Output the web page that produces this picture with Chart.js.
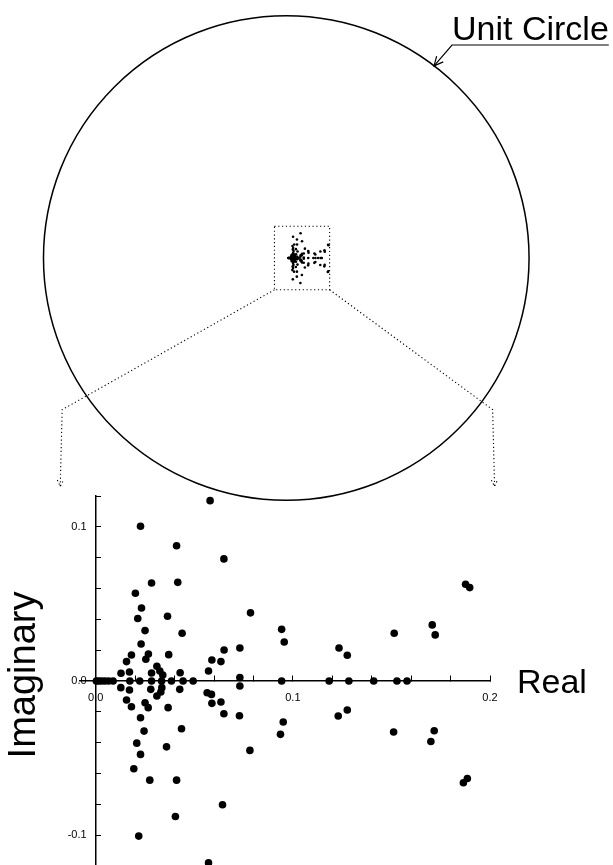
<!DOCTYPE html>
<html>
<head>
<meta charset="utf-8">
<script src="https://cdn.jsdelivr.net/npm/chart.js@4.4.0/dist/chart.umd.min.js"></script>
<style>
  html, body { margin: 0; padding: 0; background: #fff; }
  #wrap { position: relative; width: 613px; height: 865px; overflow: hidden; }
  #circle { position: absolute; left: 0; top: 0; }
  #zoom { position: absolute; left: 0; top: 480px; }
</style>
</head>
<body>
<div id="wrap">
  <canvas id="circle" width="613" height="520"></canvas>
  <canvas id="zoom" width="613" height="390"></canvas>
</div>
<script>
// poles, upper half plane
const upperRe = [0.058, 0.0227, 0.041, 0.065, 0.0283, 0.0416, 0.0201, 0.0232, 0.0213, 0.0364,
  0.0785, 0.025, 0.0438, 0.0943, 0.0956, 0.023, 0.0181, 0.0267, 0.0254, 0.037,
  0.0156, 0.031, 0.0325, 0.0283, 0.034, 0.0128, 0.0171, 0.0428, 0.0572, 0.0589,
  0.0635, 0.0651, 0.0731, 0.0731, 0.1876, 0.1897, 0.1707, 0.1722, 0.1514, 0.1234, 0.1276];
const upperIm = [0.117, 0.1004, 0.0877, 0.0792, 0.0636, 0.064, 0.0569, 0.0474, 0.0405, 0.042,
  0.0442, 0.0327, 0.031, 0.0335, 0.0253, 0.024, 0.0169, 0.0175, 0.0141, 0.0171,
  0.0126, 0.0095, 0.0065, 0.0052, 0.0039, 0.005, 0.0058, 0.0054, 0.0065, 0.0136,
  0.0126, 0.0201, 0.0214, 0.0022, 0.0628, 0.0606, 0.0364, 0.0299, 0.031, 0.0214, 0.0167];

// lower half plane
const lowerRe = [0.0127, 0.0171, 0.0279, 0.0335, 0.033, 0.031, 0.0426, 0.0565, 0.0587, 0.0731,
  0.0156, 0.0181, 0.025, 0.0266, 0.0367, 0.0589, 0.0635, 0.065, 0.0729, 0.0227,
  0.0435, 0.0245, 0.0951, 0.0937, 0.0208, 0.0359, 0.0227, 0.0782, 0.0193, 0.0274,
  0.041, 0.0643, 0.0404, 0.0218, 0.0572, 0.123, 0.1276, 0.1511, 0.1717, 0.17, 0.1865, 0.1885];
const lowerIm = [-0.0043, -0.0058, -0.0054, -0.0043, -0.0071, -0.0097, -0.0054, -0.0076, -0.0087, -0.0032,
  -0.0123, -0.0167, -0.0141, -0.0173, -0.0173, -0.0145, -0.0136, -0.0212, -0.0225, -0.0238,
  -0.031, -0.0325, -0.0266, -0.0346, -0.0403, -0.0427, -0.0476, -0.045, -0.0569, -0.0643,
  -0.0643, -0.0803, -0.0879, -0.1006, -0.118, -0.0227, -0.0188, -0.0331, -0.0323, -0.0392, -0.066, -0.0632];

// poles sitting on the real axis
const axisRe = [0.0003, 0.0015, 0.0029, 0.0046, 0.0065, 0.0088, 0.0173, 0.0223, 0.0283, 0.0334,
  0.0384, 0.0443, 0.0494, 0.0943, 0.1184, 0.1284, 0.141, 0.1528, 0.1579];

// labelled ticks
const xTickVals = [0.0, 0.1, 0.2];
const xTickText = ['0.0', '0.1', '0.2'];
const yTickVals = [-0.1, 0.0, 0.1];
const yTickText = ['-0.1', '0.0', '0.1'];

function pts(re, im) {
  return re.map((r, i) => ({ x: r, y: im[i] }));
}
const poles = pts(upperRe, upperIm)
  .concat(pts(lowerRe, lowerIm))
  .concat(axisRe.map(r => ({ x: r, y: 0 })));

const FONT = '"Liberation Sans", Arial, sans-serif';

function tickLabel(v, vals, text, pad) {
  const i = vals.findIndex(t => Math.abs(t - v) < 1e-6);
  return i < 0 ? '' : text[i] + pad;
}

// ---------- top: unit circle with the small inset ----------
const CX = 286, CY = 258, R = 246;      // circle centre / radius in px
const IX = 288, IY = 258, IR = 215;     // inset origin / scale in px
const W = 613, H1 = 520;

const boxRe = [-0.065, 0.195];
const boxIm = [-0.15, 0.15];
// where the dotted guides bend and end (unit circle coords)
const guideL = [[-0.923, -0.626], [-0.931, -0.943]];
const guideR = [[0.85, -0.626], [0.858, -0.943]];
const labelAngle = 52.5; // degrees, where the label arrow touches the circle

function arrowHead(ctx, x, y, dx, dy, len) {
  const a = Math.atan2(dy, dx);
  ctx.beginPath();
  ctx.moveTo(x - len * Math.cos(a - 0.45), y - len * Math.sin(a - 0.45));
  ctx.lineTo(x, y);
  ctx.lineTo(x - len * Math.cos(a + 0.45), y - len * Math.sin(a + 0.45));
  ctx.stroke();
}

const circlePlugin = {
  id: 'circleDeco',
  beforeDatasetsDraw(chart) {
    const ctx = chart.ctx;
    const xc = chart.scales.xc, yc = chart.scales.yc;
    const xi = chart.scales.xi, yi = chart.scales.yi;
    const cx = xc.getPixelForValue(0), cy = yc.getPixelForValue(0);
    const rx = xc.getPixelForValue(1) - cx, ry = cy - yc.getPixelForValue(1);
    ctx.save();
    ctx.strokeStyle = '#000';
    ctx.lineWidth = 1.5;
    ctx.beginPath();
    ctx.ellipse(cx, cy, rx, ry, 0, 0, Math.PI * 2);
    ctx.stroke();

    // dotted inset box
    const bx0 = xi.getPixelForValue(boxRe[0]), bx1 = xi.getPixelForValue(boxRe[1]);
    const by0 = yi.getPixelForValue(boxIm[1]), by1 = yi.getPixelForValue(boxIm[0]);
    ctx.lineWidth = 1.1;
    ctx.setLineDash([1.2, 2.6]);
    ctx.strokeRect(bx0, by0, bx1 - bx0, by1 - by0);

    // dotted guides to the enlarged plot
    [[bx0, guideL], [bx1, guideR]].forEach(([sx, g]) => {
      const p1 = [xc.getPixelForValue(g[0][0]), yc.getPixelForValue(g[0][1])];
      const p2 = [xc.getPixelForValue(g[1][0]), yc.getPixelForValue(g[1][1])];
      ctx.beginPath();
      ctx.moveTo(sx, by1);
      ctx.lineTo(p1[0], p1[1]);
      ctx.lineTo(p2[0], p2[1]);
      ctx.stroke();
      arrowHead(ctx, p2[0], p2[1], p2[0] - p1[0], p2[1] - p1[1], 7);
    });
    ctx.setLineDash([]);

    // "Unit Circle" label with leader
    const a = labelAngle * Math.PI / 180;
    const tx = xc.getPixelForValue(Math.cos(a)), ty = yc.getPixelForValue(Math.sin(a));
    ctx.fillStyle = '#000';
    ctx.font = '34px ' + FONT;
    ctx.textAlign = 'left';
    ctx.textBaseline = 'alphabetic';
    ctx.fillText('Unit Circle', 452, 40);
    const tw = ctx.measureText('Unit Circle').width;
    ctx.lineWidth = 1.2;
    ctx.beginPath();
    ctx.moveTo(452 + tw, 45);
    ctx.lineTo(452, 45);
    ctx.lineTo(tx, ty);
    ctx.stroke();
    arrowHead(ctx, tx, ty, tx - 452, ty - 45, 10);
    ctx.restore();
  }
};

new Chart(document.getElementById('circle'), {
  type: 'scatter',
  data: {
    datasets: [{
      data: poles,
      xAxisID: 'xi',
      yAxisID: 'yi',
      pointRadius: 1.3,
      pointBackgroundColor: '#000',
      pointBorderWidth: 0
    }]
  },
  options: {
    responsive: false,
    animation: false,
    events: [],
    layout: { padding: 0 },
    plugins: { legend: { display: false }, tooltip: { enabled: false } },
    scales: {
      xc: { axis: 'x', type: 'linear', display: false, min: -CX / R, max: (W - CX) / R },
      yc: { axis: 'y', type: 'linear', display: false, min: -(H1 - CY) / R, max: CY / R },
      xi: { axis: 'x', type: 'linear', display: false, min: -IX / IR, max: (W - IX) / IR },
      yi: { axis: 'y', type: 'linear', display: false, min: -(H1 - IY) / IR, max: IY / IR }
    }
  },
  plugins: [circlePlugin]
});

// ---------- bottom: enlarged view ----------
const titlePlugin = {
  id: 'axisTitles',
  afterDraw(chart) {
    const ctx = chart.ctx;
    ctx.save();
    ctx.fillStyle = '#000';
    ctx.font = '38px ' + FONT;
    ctx.textBaseline = 'alphabetic';
    ctx.textAlign = 'center';
    ctx.translate(35, 195);
    ctx.rotate(-Math.PI / 2);
    ctx.fillText('Imaginary', 0, 0);
    ctx.restore();
    ctx.save();
    ctx.fillStyle = '#000';
    ctx.font = '34px ' + FONT;
    ctx.textAlign = 'left';
    ctx.textBaseline = 'alphabetic';
    ctx.fillText('Real', 517, 213);
    ctx.restore();
  }
};

new Chart(document.getElementById('zoom'), {
  type: 'scatter',
  data: {
    datasets: [{
      data: poles,
      pointRadius: 3.8,
      pointBackgroundColor: '#000',
      pointBorderWidth: 0
    }]
  },
  options: {
    responsive: false,
    animation: false,
    events: [],
    layout: { padding: { left: 80, right: 123, top: 16, bottom: 0 } },
    plugins: { legend: { display: false }, tooltip: { enabled: false } },
    scales: {
      x: {
        type: 'linear',
        min: -0.008,
        max: 0.2,
        position: { y: 0 },
        afterFit: s => { s.height = 0; s.paddingLeft = 0; s.paddingRight = 0; },
        border: { color: '#000', width: 1.5 },
        grid: { drawOnChartArea: false, color: '#000', lineWidth: 1, tickLength: -6 },
        ticks: {
          stepSize: 0.02, includeBounds: false, autoSkip: false, maxRotation: 0,
          padding: 16, color: '#000', font: { family: FONT, size: 11 },
          callback: v => tickLabel(v, xTickVals, xTickText, '')
        }
      },
      y: {
        type: 'linear',
        min: -0.12,
        max: 0.12,
        position: { x: 0 },
        afterFit: s => { s.width = 0; s.paddingTop = 0; s.paddingBottom = 0; },
        border: { color: '#000', width: 1.5 },
        grid: { drawOnChartArea: false, color: '#000', lineWidth: 1, tickLength: -6 },
        ticks: {
          stepSize: 0.02, autoSkip: false,
          padding: 8, color: '#000', font: { family: FONT, size: 11 },
          callback: v => tickLabel(v, yTickVals, yTickText, '   ')
        }
      }
    }
  },
  plugins: [titlePlugin]
});
</script>
</body>
</html>
